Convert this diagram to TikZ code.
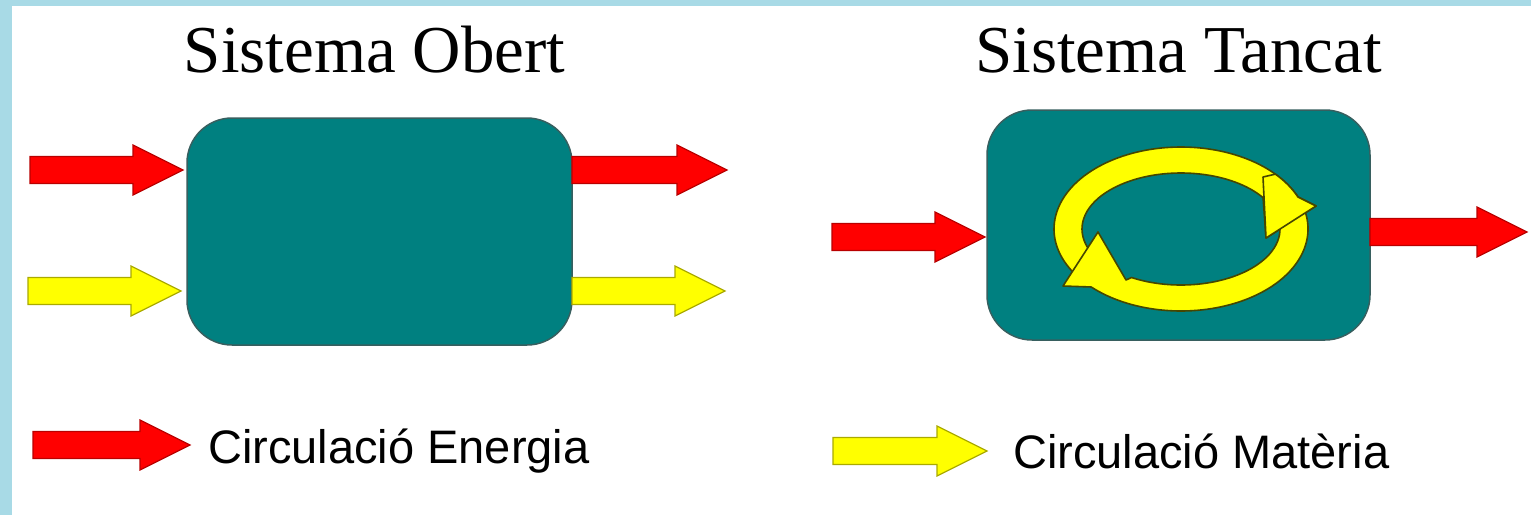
\documentclass[tikz,border=0pt]{standalone}
\usepackage{fontspec}
\setmainfont{Liberation Serif}
\newfontfamily\legfont{Liberation Sans}
\usetikzlibrary{calc}
\definecolor{boxteal}{RGB}{0,128,128}
\definecolor{boxedge}{RGB}{55,95,95}
\definecolor{arrred}{RGB}{255,0,0}
\definecolor{arrredE}{RGB}{185,0,0}
\definecolor{arryel}{RGB}{255,255,0}
\definecolor{arryelE}{RGB}{170,170,0}
\definecolor{cycE}{RGB}{70,70,0}
\definecolor{bgblue}{RGB}{168,218,230}
\newcommand\blockarrow[3]{%
  \path[#1] let \p1=(#2), \p2=(#3) in
    (\x1,{\y1+13.5pt}) -- ({\x2-50pt},{\y1+13.5pt}) -- ({\x2-50pt},{\y1+25pt})
    -- (\x2,\y1) -- ({\x2-50pt},{\y1-25pt}) -- ({\x2-50pt},{\y1-13.5pt})
    -- (\x1,{\y1-13.5pt}) -- cycle;}
\begin{document}
\begin{tikzpicture}[x=1pt,y=-1pt,
  sysbox/.style={draw=boxedge, fill=boxteal, line width=1.5pt, rounded corners=45pt, inner sep=0pt, outer sep=0pt},
  redA/.style={fill=arrred, draw=arrredE, line width=1.2pt},
  yelA/.style={fill=arryel, draw=arryelE, line width=1.2pt},
  cyc/.style={fill=arryel, draw=cycE, line width=1.6pt, line join=round},
  title/.style={font=\fontsize{67}{80}\selectfont, anchor=base, inner sep=0pt, text=black},
  legend/.style={font=\legfont\fontsize{47}{56}\selectfont, anchor=base west, inner sep=0pt, text=black}]
\useasboundingbox (0,0) rectangle (1531,515);
\fill[white] (0,0) rectangle (1531,515);
\fill[bgblue] (0,0) rectangle (12,515);
\fill[bgblue] (0,0) rectangle (1531,6);
% titles
\node[title] (t1) at (374.5,72) {Sistema Obert};
\node[title] (t2) at (1178.5,72) {Sistema Tancat};
% boxes
\node[sysbox, minimum width=385pt, minimum height=227pt] (box1) at (379.5,231.5) {};
\node[sysbox, minimum width=383pt, minimum height=230pt] (box2) at (1178.5,225) {};
% coordinates of flows
\coordinate (r1s) at (30,170);
\coordinate (r1t) at ($(box1.west |- r1s)+(-4,0)$);
\coordinate (y1s) at (28,291);
\coordinate (y1t) at ($(box1.west |- y1s)+(-6,0)$);
\coordinate (r2t) at (727,170);
\coordinate (r2s) at (box1.east |- r2t);
\coordinate (y2t) at (725,291);
\coordinate (y2s) at (box1.east |- y2t);
\coordinate (r3s) at (832,237);
\coordinate (r3t) at ($(box2.west |- r3s)+(-2,0)$);
\coordinate (r4t) at (1527,232);
\coordinate (r4s) at (box2.east |- r4t);
\coordinate (lrs) at (33,445);
\coordinate (lrt) at (190,445);
\coordinate (lys) at (833,451);
\coordinate (lyt) at (987,451);
% flows
\blockarrow{redA}{r1s}{r1t}
\blockarrow{yelA}{y1s}{y1t}
\blockarrow{redA}{r2s}{r2t}
\blockarrow{yelA}{y2s}{y2t}
\blockarrow{redA}{r3s}{r3t}
\blockarrow{redA}{r4s}{r4t}
% cycle of matter inside the closed system
\begin{scope}[shift={(1181,229)}]
  \draw[cyc] (145:99 and 56) -- (145:127 and 82)
    arc[start angle=145, end angle=337, x radius=127, y radius=82]
    -- (135,-23) -- (85,9) -- (326:99 and 56)
    arc[start angle=326, end angle=145, x radius=99, y radius=56] -- cycle;
  \draw[cyc] (335:127 and 82)
    arc[start angle=335, end angle=495, x radius=127, y radius=82]
    -- (-118,57) -- (-83,3) -- (-55,51) -- (120:99 and 56)
    arc[start angle=120, end angle=-25, x radius=99, y radius=56] -- cycle;
  \draw[cyc] (82,-52) -- (318:127 and 82)
    arc[start angle=318, end angle=337, x radius=127, y radius=82]
    -- (135,-23) -- (85,9) -- cycle;
\end{scope}
% legend
\blockarrow{redA}{lrs}{lrt}
\blockarrow{yelA}{lys}{lyt}
\node[legend] (l1) at (208,463) {Circulació Energia};
\node[legend] (l2) at (1013,468) {Circulació Matèria};
\end{tikzpicture}
\end{document}
